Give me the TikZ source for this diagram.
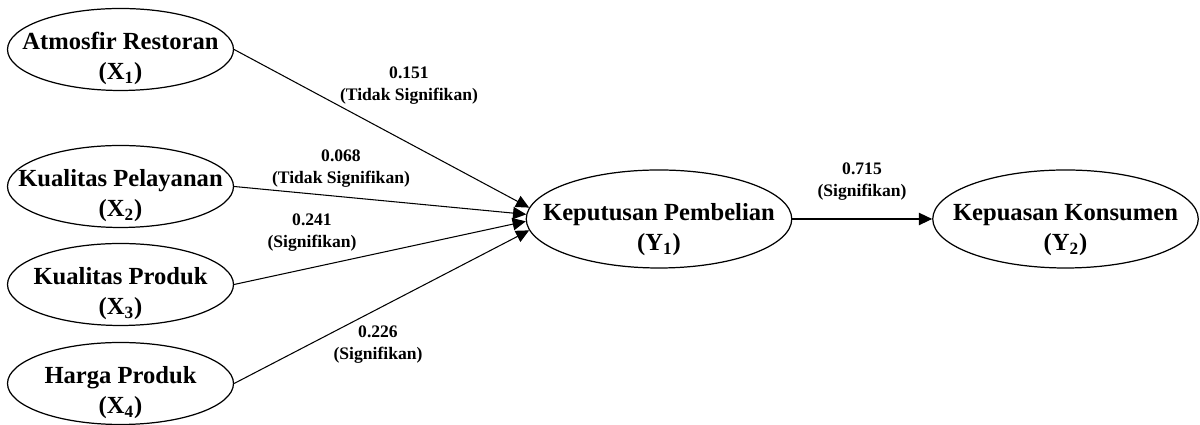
\documentclass[tikz,border=0pt]{standalone}
\usepackage{fontspec}
\setmainfont{Liberation Serif}
\usetikzlibrary{arrows.meta,shapes.geometric}

\tikzset{
  var/.style={ellipse, draw, line width=0.7pt, minimum width=4.52cm, minimum height=1.64cm, inner sep=0pt},
  endo/.style={var, minimum width=5.31cm, minimum height=1.96cm},
  vartext/.style={align=center, font=\fontsize{14}{17}\selectfont\bfseries},
  coef/.style={align=center, font=\fontsize{10}{12.5}\selectfont\bfseries},
  link/.style={-{Triangle[length=7.5pt,width=7pt]}, line width=0.6pt}
}

\begin{document}
\begin{tikzpicture}
            \useasboundingbox (0,0) rectangle (24,8.5);

            % Exogenous variables
            \node[var] (x1) at (2.41,7.51) {};
            \node[vartext] (x1t) at ([yshift=-0.18cm]x1.center) {Atmosfir Restoran\\(X\textsubscript{1})};

            \node[var] (x2) at (2.41,4.77) {};
            \node[vartext] (x2t) at ([yshift=-0.18cm]x2.center) {Kualitas Pelayanan\\(X\textsubscript{2})};

            \node[var] (x3) at (2.41,2.81) {};
            \node[vartext] (x3t) at ([yshift=-0.18cm]x3.center) {Kualitas Produk\\(X\textsubscript{3})};

            \node[var] (x4) at (2.41,0.83) {};
            \node[vartext] (x4t) at ([yshift=-0.18cm]x4.center) {Harga Produk\\(X\textsubscript{4})};

            % Endogenous variables
            \node[endo] (y1) at (13.18,4.12) {};
            \node[vartext] (y1t) at ([yshift=-0.22cm]y1.center) {Keputusan Pembelian\\(Y\textsubscript{1})};

            \node[endo] (y2) at (21.31,4.12) {};
            \node[vartext] (y2t) at ([yshift=-0.22cm]y2.center) {Kepuasan Konsumen\\(Y\textsubscript{2})};

            % Paths
            \draw[link] (x1.east) -- (y1.175);
            \draw[link] (x2.east) -- (y1.178);
            \draw[link] (x3.east) -- (y1.181);
            \draw[link] (x4.east) -- (y1.185);
            \draw[link] (y1) -- (y2);

            % Coefficients
            \node[coef] (c1) at (8.18,6.78) {0.151\\(Tidak Signifikan)};
            \node[coef] (c2) at (6.82,5.13) {0.068\\(Tidak Signifikan)};
            \node[coef] (c3) at (6.24,3.85) {0.241\\(Signifikan)};
            \node[coef] (c4) at (7.56,1.60) {0.226\\(Signifikan)};
            \node[coef] (c5) at (17.24,4.87) {0.715\\(Signifikan)};
        \end{tikzpicture}
\end{document}
